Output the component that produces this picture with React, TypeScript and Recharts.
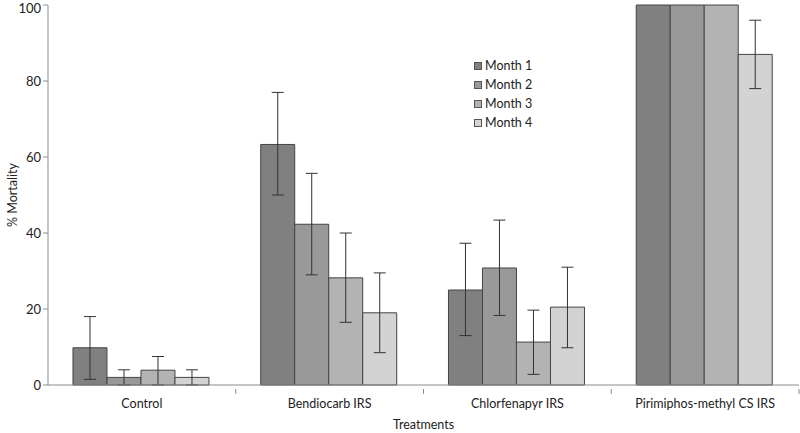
import React from 'react';
import { BarChart, Bar, XAxis, YAxis, ErrorBar } from 'recharts';

const treatments = ['Control', 'Bendiocarb IRS', 'Chlorfenapyr IRS', 'Pirimiphos-methyl CS IRS'];
const months = ['Month 1', 'Month 2', 'Month 3', 'Month 4'];
const colors = ['#808080', '#999999', '#b3b3b3', '#d3d3d3'];

// mean mortality per month, one array per month across treatments
const month1 = [9.8, 63.3, 25.0, 100];
const month2 = [2.0, 42.3, 30.8, 100];
const month3 = [3.9, 28.2, 11.3, 100];
const month4 = [2.0, 19.0, 20.5, 87.0];

// error bar bounds (lower, upper); null = no error bar
const low1 = [1.5, 50.0, 13.0, null];
const high1 = [18.0, 77.0, 37.3, null];
const low2 = [0, 29.0, 18.3, null];
const high2 = [4.0, 55.7, 43.4, null];
const low3 = [0, 16.5, 2.8, null];
const high3 = [7.5, 40.0, 19.7, null];
const low4 = [0, 8.5, 9.8, 78.0];
const high4 = [4.0, 29.5, 31.0, 96.0];

const yTicks = [0, 20, 40, 60, 80, 100];

const series = [month1, month2, month3, month4];
const lows = [low1, low2, low3, low4];
const highs = [high1, high2, high3, high4];

const data = treatments.map((t, i) => {
  const row: any = { name: t };
  series.forEach((s, k) => {
    row['m' + k] = s[i];
    const lo = lows[k][i];
    const hi = highs[k][i];
    row['e' + k] = lo == null || hi == null ? null : [s[i] - lo, hi - s[i]];
  });
  return row;
});

const FONT = 'Lato, "Open Sans", sans-serif';
const CHART_W = 800;
const LEFT = 48;
const RIGHT = 1;
const BAND = (CHART_W - LEFT - RIGHT) / treatments.length;

const XTick = (props: any) => {
  const { x, y, payload } = props;
  return (
    <g>
      <line x1={x + BAND / 2} x2={x + BAND / 2} y1={y - 4} y2={y + 1} stroke="#8c8c8c" />
      <text x={x} y={y + 15} textAnchor="middle" fontSize={12.5} fill="#222" fontFamily={FONT}>
        {payload.value}
      </text>
    </g>
  );
};

function ChartLegend() {
  return (
    <div style={{ position: 'absolute', left: 474, top: 56, fontFamily: FONT, fontSize: 12.5, color: '#222' }}>
      {months.map((m, k) => (
        <div key={m} style={{ display: 'flex', alignItems: 'center', height: 19 }}>
          <span
            style={{
              width: 8,
              height: 8,
              background: colors[k],
              border: '1px solid #555',
              marginRight: 3,
              boxSizing: 'border-box',
            }}
          />
          {m}
        </div>
      ))}
    </div>
  );
}

const YLabel = (props: any) => {
  const { viewBox } = props;
  const cy = viewBox.y + viewBox.height / 2;
  return (
    <text
      x={12}
      y={cy}
      transform={`rotate(-90, 12, ${cy})`}
      textAnchor="middle"
      dominantBaseline="central"
      fontSize={12.5}
      fill="#222"
      fontFamily={FONT}
    >
      % Mortality
    </text>
  );
};

export default function App() {
  return (
    <div style={{ position: 'absolute', left: 0, top: 0, width: 800, height: 433, background: '#fff' }}>
      <BarChart
        width={CHART_W}
        height={433}
        data={data}
        margin={{ top: 5, right: RIGHT, left: 0, bottom: 0 }}
        barGap={0}
        barCategoryGap="13.3%"
      >
        <XAxis
          dataKey="name"
          height={48}
          tick={<XTick />}
          tickLine={false}
          axisLine={{ stroke: '#8c8c8c' }}
          interval={0}
          label={{ value: 'Treatments', position: 'insideBottom', offset: 4, fontSize: 12.5, fill: '#222', fontFamily: FONT }}
        />
        <YAxis
          width={LEFT}
          domain={[0, 100]}
          ticks={yTicks}
          tick={{ fontSize: 13, fill: '#222', fontFamily: FONT }}
          tickLine={{ stroke: '#8c8c8c' }}
          tickSize={5}
          axisLine={{ stroke: '#8c8c8c' }}
          label={<YLabel />}
        />
        {months.map((m, k) => (
          <Bar key={m} dataKey={'m' + k} name={m} fill={colors[k]} stroke="#454545" strokeWidth={1} isAnimationActive={false}>
            <ErrorBar dataKey={'e' + k} width={6} stroke="#333" strokeWidth={1} direction="y" />
          </Bar>
        ))}
      </BarChart>
      <ChartLegend />
    </div>
  );
}
